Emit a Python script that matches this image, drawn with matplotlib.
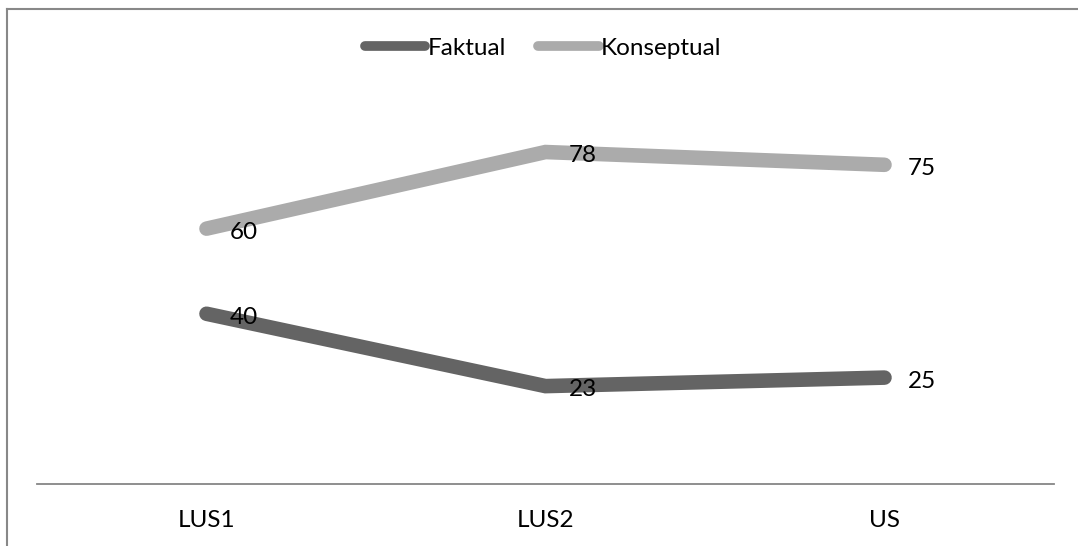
import matplotlib
matplotlib.use("Agg")
import matplotlib.pyplot as plt
from matplotlib.lines import Line2D

plt.rcParams["font.family"] = ["Lato", "DejaVu Sans"]

categories = ["LUS1", "LUS2", "US"]
faktual = [40, 23, 25]
konseptual = [60, 78, 75]

dark = "#646464"
light = "#ababab"

fig = plt.figure(figsize=(10.78, 5.46), dpi=100)
ax = fig.add_axes([37 / 1078, 62 / 546, 1017 / 1078, 425.6 / 546])

x = range(len(categories))
ax.plot(x, faktual, color=dark, lw=10.5, solid_capstyle="round",
        solid_joinstyle="miter", label="Faktual")
ax.plot(x, konseptual, color=light, lw=10.5, solid_capstyle="round",
        solid_joinstyle="miter", label="Konseptual")

# value labels just right of each point
for series in (faktual, konseptual):
    for i, v in zip(x, series):
        ax.annotate(str(v), (i, v), xytext=(16.5, -2.5),
                    textcoords="offset points", ha="left", va="center",
                    fontsize=17.5, color="black")

ax.set_xlim(-0.5, 2.5)
ax.set_ylim(0, 100)
ax.set_xticks(list(x))
ax.set_xticklabels(categories, fontsize=17.5)
ax.tick_params(axis="x", length=0, pad=19)
ax.set_yticks([])
for side in ("top", "right", "left"):
    ax.spines[side].set_visible(False)
ax.spines["bottom"].set_color("#868686")
ax.spines["bottom"].set_linewidth(1.3)

leg = fig.legend(loc="center", bbox_to_anchor=(543 / 1078, 1 - 48 / 546),
                 ncol=2, frameon=False, fontsize=17.5, handlelength=2.5,
                 handletextpad=0.1, columnspacing=1.3)
for h in leg.get_lines():
    h.set_linewidth(7)
    h.set_solid_capstyle("round")

# chart border (left and top edges)
fig.add_artist(Line2D([6.5 / 1078, 6.5 / 1078], [0, 1 - 8.5 / 546],
                      transform=fig.transFigure, color="#888888", lw=1.5))
fig.add_artist(Line2D([6.5 / 1078, 1], [1 - 8.5 / 546, 1 - 8.5 / 546],
                      transform=fig.transFigure, color="#888888", lw=1.5))

fig.savefig("out.png", dpi=100)
